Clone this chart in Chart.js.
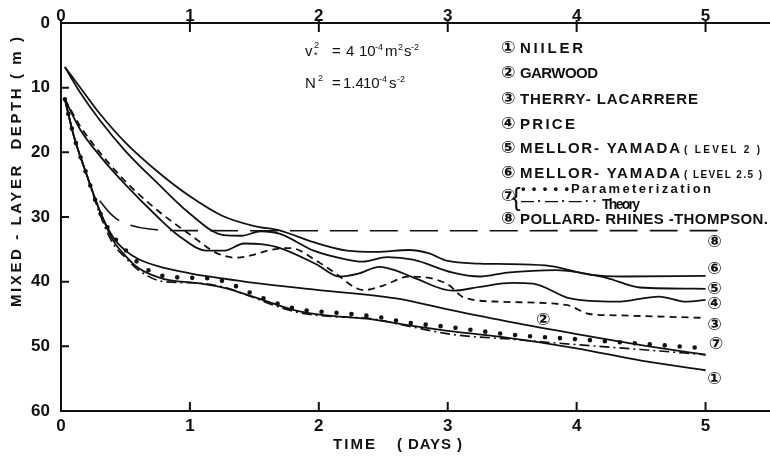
<!DOCTYPE html>
<html>
<head>
<meta charset="utf-8">
<title>Mixed-layer depth</title>
<script src="https://cdn.jsdelivr.net/npm/chart.js@4.4.1/dist/chart.umd.min.js"></script>
<style>
  html, body { margin: 0; padding: 0; background: #fff; }
  #wrap { width: 770px; height: 457px; }
</style>
</head>
<body>
<div id="wrap"><canvas id="mldChart" width="770" height="457"></canvas></div>
<script>
// ---------------------------
// DATA  (time in days, depth in m)
// ---------------------------
const xTicks = [0, 1, 2, 3, 4, 5];
const yTicks = [0, 10, 20, 30, 40, 50, 60];

const niiler = [[0.03,11.8],[0.1,17.5],[0.2,23.5],[0.3,29.0],[0.4,33.5],[0.5,36.0],[0.6,37.9],[0.8,39.6],[1.05,40.2],[1.25,40.9],[1.5,42.4],[1.85,44.6],[2.1,45.3],[2.4,45.8],[2.65,46.6],[3.0,47.6],[3.4,48.5],[4.0,50.3],[4.5,52.2],[5.0,53.7]];
const garwood = [[0.03,11.8],[0.1,17.5],[0.2,23.5],[0.3,29.0],[0.4,33.0],[0.5,35.2],[0.6,36.5],[0.75,37.6],[1.0,38.7],[1.25,39.5],[1.5,40.2],[2.0,41.3],[2.6,42.6],[3.0,44.3],[3.5,46.3],[4.0,48.1],[4.5,49.8],[5.0,51.3]];
const therry = [[0.03,11.8],[0.15,16],[0.3,20],[0.5,24.5],[0.75,29],[1.02,33],[1.2,35.5],[1.36,36.3],[1.5,35.8],[1.62,35.1],[1.78,34.8],[2.0,37.0],[2.1,38.3],[2.35,41.3],[2.5,40.6],[2.7,39.2],[3.0,40.4],[3.12,42.4],[3.4,43.1],[3.92,43.6],[4.1,45.0],[4.3,45.2],[5.0,45.6]];
const price = [[0.03,11.8],[0.15,16.5],[0.3,20.5],[0.5,25],[0.75,30],[0.92,33],[1.13,35.2],[1.27,35.2],[1.42,34.1],[1.55,34.2],[1.7,34.8],[1.98,37.3],[2.16,39.2],[2.3,38.8],[2.47,37.7],[2.6,38.3],[2.75,39.5],[3.04,41.4],[3.25,40.8],[3.5,40.2],[3.66,40.3],[3.95,42.6],[4.31,43.1],[4.64,42.3],[4.85,43.1],[5.0,42.8]];
const mellorL2 = [[0.03,6.8],[0.15,10.8],[0.3,15],[0.5,19.8],[0.75,24.8],[1.0,29.5],[1.26,32.8],[1.4,32.9],[1.55,32.2],[1.7,32.6],[1.96,35.2],[2.2,36.5],[2.34,36.9],[2.53,36.2],[2.73,36.6],[3.04,38.6],[3.25,39.2],[3.46,38.6],[3.84,38.2],[4.23,39.4],[4.49,40.9],[5.0,41.1]];
const mellorL25 = [[0.03,6.8],[0.15,10],[0.3,14],[0.5,18.5],[0.75,23],[1.0,26.8],[1.25,29.8],[1.5,31.4],[1.7,32.1],[1.96,33.9],[2.22,35.2],[2.45,35.4],[2.7,35.1],[2.85,35.6],[3.0,36.8],[3.25,37.2],[3.5,37.3],[3.8,37.6],[4.1,38.9],[4.36,39.2],[5.0,39.1]];
const param = [[0.03,11.8],[0.1,17.5],[0.2,23.5],[0.3,29.2],[0.4,32.8],[0.5,35.1],[0.63,37.6],[0.75,38.9],[0.88,39.3],[1.0,39.4],[1.15,39.5],[1.27,40.0],[1.37,40.8],[1.5,42.0],[1.7,43.5],[1.88,44.4],[2.14,44.8],[2.5,45.6],[2.65,46.2],[3.0,47.0],[3.5,48.2],[4.0,48.9],[4.5,49.6],[5.0,50.3]];
const theory = [[0.03,11.8],[0.1,17.5],[0.2,23.5],[0.3,29.5],[0.4,34.0],[0.5,36.3],[0.6,38.2],[0.8,40.0],[1.05,40.2],[1.25,40.8],[1.5,42.5],[1.6,43.3],[1.85,44.8],[2.1,45.4],[2.4,45.7],[2.65,46.7],[3.05,48.2],[3.5,48.9],[3.85,49.5],[4.5,50.5],[5.0,51.3]];
const pollard = [[0.3,27.5],[0.4,29.8],[0.5,31.0],[0.7,31.9],[1.0,32.1],[5.15,32.1]];

// ---------------------------
// STYLE HELPERS
// ---------------------------
const INK = '#111';
const SANS = '"Liberation Sans", Arial, sans-serif';
const toPts = arr => arr.map(([x, y]) => ({ x, y }));

function curve(data, extra) {
  return Object.assign({
    data: toPts(data),
    borderColor: INK,
    borderWidth: 1.8,
    pointRadius: 0,
    fill: false,
    cubicInterpolationMode: 'monotone'
  }, extra || {});
}

// text squeezed/stretched to a given width
function spread(ctx, str, x, y, w) {
  ctx.letterSpacing = '0px';
  const gap = str.length > 1 ? (w - ctx.measureText(str).width) / (str.length - 1) : 0;
  ctx.letterSpacing = gap + 'px';
  ctx.fillText(str, x, y);
  ctx.letterSpacing = '0px';
}

// ---------------------------
// INWARD TICKS + TEXT
// ---------------------------
const decorations = {
  id: 'decorations',
  afterDraw(chart) {
    const { ctx, chartArea: a, scales } = chart;
    ctx.save();
    ctx.strokeStyle = INK;
    ctx.fillStyle = INK;
    ctx.lineWidth = 2;
    ctx.beginPath();
    xTicks.forEach(v => {
      const px = scales.x.getPixelForValue(v);
      ctx.moveTo(px, a.bottom); ctx.lineTo(px, a.bottom - 9);
      ctx.moveTo(px, a.top - 3); ctx.lineTo(px, a.top + 9);
    });
    yTicks.forEach(v => {
      const py = scales.y.getPixelForValue(v);
      ctx.moveTo(a.left, py); ctx.lineTo(a.left + 8, py);
    });
    ctx.stroke();

    // axis titles
    ctx.textBaseline = 'middle';
    ctx.textAlign = 'left';
    ctx.font = 'bold 15px ' + SANS;
    ctx.save();
    ctx.translate(17, 172);
    ctx.rotate(-Math.PI / 2);
    spread(ctx, 'MIXED - LAYER  DEPTH ( m )', -135, 0, 270);
    ctx.restore();
    spread(ctx, 'TIME', 333, 445, 42);
    spread(ctx, '( DAYS )', 397, 445, 65);

    // forcing parameters
    ctx.textBaseline = 'alphabetic';
    const big = '15px ' + SANS, small = '9px ' + SANS;
    const runs = [
      [big, 'v', 305, 56], [small, '2', 314, 48], [small, '*', 314, 58],
      [big, '=', 332, 56], [big, '4', 346, 56], [big, '10', 359, 56], [small, '-4', 375, 50],
      [big, 'm', 385, 56], [small, '2', 398, 50], [big, 's', 404, 56], [small, '-2', 411, 50],
      [big, 'N', 305, 88], [small, '2', 318, 81],
      [big, '=', 332, 88], [big, '1.4', 343, 88], [big, '10', 363, 88], [small, '-4', 379, 82],
      [big, 's', 389, 88], [small, '-2', 397, 82]
    ];
    runs.forEach(([f, t, x, y]) => { ctx.font = f; ctx.fillText(t, x, y); });

    // model key
    const circ = 'bold 17px "DejaVu Sans", sans-serif';
    const key = [
      ['\u2460', 'NIILER', 53, 63],
      ['\u2461', 'GARWOOD', 78, 78],
      ['\u2462', 'THERRY- LACARRERE', 104, 178],
      ['\u2463', 'PRICE', 129, 55],
      ['\u2464', 'MELLOR- YAMADA', 153, 160, '( LEVEL 2 )', 684, 76],
      ['\u2465', 'MELLOR- YAMADA', 178, 160, '( LEVEL 2.5 )', 684, 78],
      ['\u2467', 'POLLARD- RHINES -THOMPSON.', 224, 248]
    ];
    key.forEach(([n, t, y, w, sub, sx, sw]) => {
      ctx.font = circ; ctx.fillText(n, 501, y);
      ctx.font = 'bold 15px ' + SANS; spread(ctx, t, 520, y, w);
      if (sub) { ctx.font = 'bold 10px ' + SANS; spread(ctx, sub, sx, y, sw); }
    });
    ctx.font = circ; ctx.fillText('\u2466', 501, 201);
    ctx.font = '26px ' + SANS; ctx.fillText('{', 512, 206);
    ctx.font = 'bold 13px ' + SANS;
    spread(ctx, '\u2022 \u2022 \u2022 \u2022 \u2022', 521, 193, 48);
    spread(ctx, 'Parameterization', 571, 193, 140);
    spread(ctx, '\u2014\u00b7\u2014\u00b7\u2014\u00b7\u00b7', 521, 205, 76);
    ctx.font = 'bold 14px ' + SANS;
    spread(ctx, 'Theory', 602, 209, 38);

    // curve tags
    ctx.font = circ;
    ctx.textAlign = 'center';
    ctx.textBaseline = 'middle';
    const tags = [['\u2467', 5.07, 34.0], ['\u2465', 5.07, 38.2], ['\u2464', 5.07, 41.3], ['\u2463', 5.07, 43.6],
                  ['\u2462', 5.07, 46.8], ['\u2466', 5.08, 49.8], ['\u2460', 5.07, 55.2], ['\u2461', 3.74, 46.0]];
    tags.forEach(([t, x, y]) => ctx.fillText(t, scales.x.getPixelForValue(x), scales.y.getPixelForValue(y)));
    ctx.restore();
  }
};

// ---------------------------
// CHART
// ---------------------------
const tickFont = { family: SANS, size: 17, weight: 'bold' };
const timeAxis = (position, height, pad) => ({
  type: 'linear',
  position,
  min: 0,
  max: 5.5,
  afterBuildTicks: s => { s.ticks = xTicks.map(value => ({ value })); },
  afterFit: s => { s.height = height; },
  grid: { display: false, drawTicks: false },
  border: { display: true, color: INK, width: 2 },
  ticks: { color: INK, font: tickFont, padding: pad, maxRotation: 0 }
});

new Chart(document.getElementById('mldChart'), {
  type: 'line',
  data: {
    datasets: [
      curve(niiler),
      curve(garwood),
      curve(therry, { borderDash: [7, 5] }),
      curve(price),
      curve(mellorL2),
      curve(mellorL25),
      curve(param, { borderDash: [0, 15], borderWidth: 4.6, borderCapStyle: 'round' }),
      curve(theory, { borderDash: [10, 4, 2, 4], borderWidth: 1.6 }),
      curve(pollard, { borderDash: [28, 12], borderWidth: 1.6, cubicInterpolationMode: 'default', tension: 0.4 })
    ]
  },
  options: {
    responsive: false,
    animation: false,
    layout: { padding: 0 },
    plugins: { legend: { display: false }, tooltip: { enabled: false } },
    scales: {
      x: timeAxis('bottom', 46, 5),
      x2: timeAxis('top', 23, -4),
      y: {
        type: 'linear',
        reverse: true,
        min: 0,
        max: 60,
        afterBuildTicks: s => { s.ticks = yTicks.map(value => ({ value })); },
        afterFit: s => { s.width = 61; },
        grid: { display: false, drawTicks: false },
        border: { display: true, color: INK, width: 2 },
        ticks: { color: INK, font: tickFont, padding: 11 }
      }
    }
  },
  plugins: [decorations]
});
</script>
</body>
</html>
